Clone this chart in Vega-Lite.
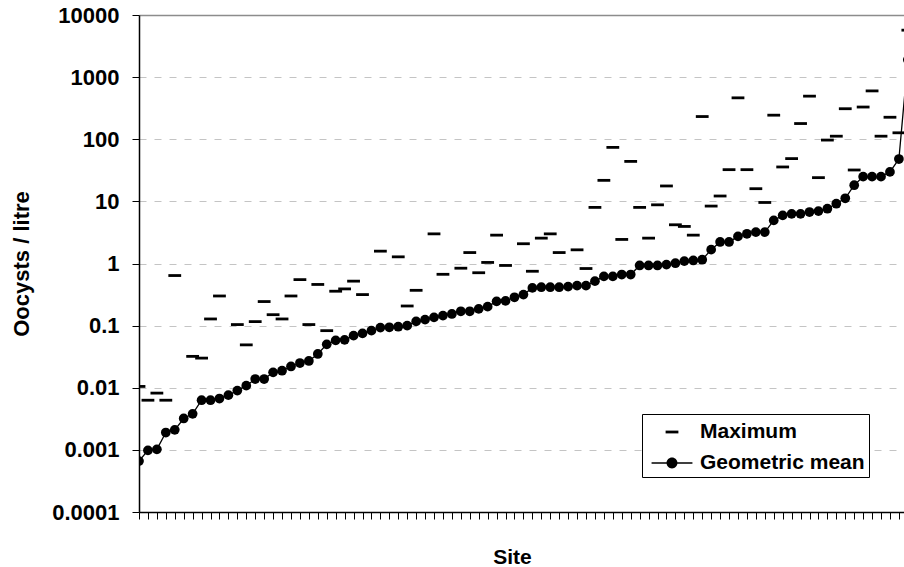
{
  "$schema": "https://vega.github.io/schema/vega-lite/v6.json",
  "autosize": {"type": "none"},
  "padding": {"left": 139, "top": 15, "right": 0, "bottom": 55},
  "width": 765,
  "height": 497,
  "background": "white",
  "config": {
    "view": {"stroke": null},
    "font": "Liberation Sans"
  },
  "data": {
    "values": [
      {"site": 0, "mean": 0.00066, "max": 0.0105},
      {"site": 1, "mean": 0.00098, "max": 0.0063},
      {"site": 2, "mean": 0.00102, "max": 0.0082},
      {"site": 3, "mean": 0.0019, "max": 0.0063},
      {"site": 4, "mean": 0.0021, "max": 0.64},
      {"site": 5, "mean": 0.0032, "max": null},
      {"site": 6, "mean": 0.0038, "max": 0.032},
      {"site": 7, "mean": 0.0063, "max": 0.03},
      {"site": 8, "mean": 0.0063, "max": 0.128},
      {"site": 9, "mean": 0.0067, "max": 0.3},
      {"site": 10, "mean": 0.0076, "max": null},
      {"site": 11, "mean": 0.009, "max": 0.104},
      {"site": 12, "mean": 0.0108, "max": 0.049},
      {"site": 13, "mean": 0.0138, "max": 0.116},
      {"site": 14, "mean": 0.0138, "max": 0.244},
      {"site": 15, "mean": 0.0177, "max": 0.15},
      {"site": 16, "mean": 0.0188, "max": 0.128},
      {"site": 17, "mean": 0.022, "max": 0.3},
      {"site": 18, "mean": 0.025, "max": 0.55},
      {"site": 19, "mean": 0.027, "max": 0.104},
      {"site": 20, "mean": 0.035, "max": 0.46},
      {"site": 21, "mean": 0.05, "max": 0.083},
      {"site": 22, "mean": 0.058, "max": 0.358},
      {"site": 23, "mean": 0.059, "max": 0.39},
      {"site": 24, "mean": 0.069, "max": 0.52},
      {"site": 25, "mean": 0.075, "max": 0.316},
      {"site": 26, "mean": 0.083, "max": null},
      {"site": 27, "mean": 0.093, "max": 1.58},
      {"site": 28, "mean": 0.094, "max": null},
      {"site": 29, "mean": 0.096, "max": 1.28},
      {"site": 30, "mean": 0.1, "max": 0.207},
      {"site": 31, "mean": 0.117, "max": 0.37},
      {"site": 32, "mean": 0.125, "max": null},
      {"site": 33, "mean": 0.136, "max": 3.0},
      {"site": 34, "mean": 0.145, "max": 0.67},
      {"site": 35, "mean": 0.154, "max": null},
      {"site": 36, "mean": 0.17, "max": 0.84},
      {"site": 37, "mean": 0.17, "max": 1.5},
      {"site": 38, "mean": 0.186, "max": 0.71},
      {"site": 39, "mean": 0.202, "max": 1.04},
      {"site": 40, "mean": 0.246, "max": 2.86},
      {"site": 41, "mean": 0.25, "max": 0.93},
      {"site": 42, "mean": 0.286, "max": null},
      {"site": 43, "mean": 0.316, "max": 2.08},
      {"site": 44, "mean": 0.405, "max": 0.75},
      {"site": 45, "mean": 0.415, "max": 2.56},
      {"site": 46, "mean": 0.415, "max": 3.0},
      {"site": 47, "mean": 0.415, "max": 1.5},
      {"site": 48, "mean": 0.425, "max": null},
      {"site": 49, "mean": 0.44, "max": 1.66},
      {"site": 50, "mean": 0.44, "max": 0.83},
      {"site": 51, "mean": 0.52, "max": 8.0},
      {"site": 52, "mean": 0.62, "max": 21.8},
      {"site": 53, "mean": 0.62, "max": 74},
      {"site": 54, "mean": 0.665, "max": 2.44},
      {"site": 55, "mean": 0.665, "max": 44},
      {"site": 56, "mean": 0.93, "max": 8.0},
      {"site": 57, "mean": 0.93, "max": 2.56},
      {"site": 58, "mean": 0.93, "max": 8.8},
      {"site": 59, "mean": 0.96, "max": 17.7},
      {"site": 60, "mean": 1.01, "max": 4.2},
      {"site": 61, "mean": 1.09, "max": 3.95},
      {"site": 62, "mean": 1.12, "max": 2.86},
      {"site": 63, "mean": 1.15, "max": 232},
      {"site": 64, "mean": 1.67, "max": 8.4},
      {"site": 65, "mean": 2.22, "max": 12.2},
      {"site": 66, "mean": 2.22, "max": 32.4},
      {"site": 67, "mean": 2.73, "max": 464},
      {"site": 68, "mean": 3.01, "max": 32.4},
      {"site": 69, "mean": 3.2, "max": 16},
      {"site": 70, "mean": 3.2, "max": 9.6},
      {"site": 71, "mean": 4.94, "max": 244},
      {"site": 72, "mean": 5.94, "max": 35.8},
      {"site": 73, "mean": 6.3, "max": 48.8},
      {"site": 74, "mean": 6.3, "max": 179},
      {"site": 75, "mean": 6.73, "max": 494},
      {"site": 76, "mean": 6.98, "max": 24.1},
      {"site": 77, "mean": 7.62, "max": 97},
      {"site": 78, "mean": 9.17, "max": 112},
      {"site": 79, "mean": 11.2, "max": 310},
      {"site": 80, "mean": 18.2, "max": 32},
      {"site": 81, "mean": 25, "max": 330},
      {"site": 82, "mean": 25, "max": 600},
      {"site": 83, "mean": 25, "max": 112},
      {"site": 84, "mean": 29.8, "max": 226},
      {"site": 85, "mean": 48, "max": 127},
      {"site": 86, "mean": 1900, "max": 5700}
    ]
  },
  "encoding": {
    "x": {
      "field": "site",
      "type": "quantitative",
      "scale": {"domain": [0, 85.57], "nice": false, "zero": false},
      "axis": {
        "values": [0,1,2,3,4,5,6,7,8,9,10,11,12,13,14,15,16,17,18,19,20,21,22,23,24,25,26,27,28,29,30,31,32,33,34,35,36,37,38,39,40,41,42,43,44,45,46,47,48,49,50,51,52,53,54,55,56,57,58,59,60,61,62,63,64,65,66,67,68,69,70,71,72,73,74,75,76,77,78,79,80,81,82,83,84,85],
        "labels": false,
        "grid": false,
        "domainColor": "black",
        "domainWidth": 1.5,
        "tickColor": "black",
        "tickWidth": 1,
        "tickSize": 7,
        "title": "Site",
        "titleFont": "Liberation Sans",
        "titleFontSize": 21,
        "titleFontWeight": "bold",
        "titleColor": "black",
        "titleX": 373,
        "titleY": 51,
        "titleBaseline": "alphabetic",
        "titleAlign": "center"
      }
    }
  },
  "layer": [
    {
      "mark": {"type": "point", "filled": true, "color": "black", "size": 784, "strokeWidth": 0, "opacity": 1, "clip": true},
      "encoding": {
        "y": {"field": "max", "type": "quantitative"},
        "shape": {
          "datum": "Maximum",
          "type": "nominal",
          "scale": {
            "domain": ["Maximum", "Geometric mean"],
            "range": [
              "M-0.457,-0.1H0.457V0.1H-0.457Z",
              "M-1.46,-0.046H1.46V0.046H-1.46Z M0.39,0A0.39,0.39 0 1,1 -0.39,0A0.39,0.39 0 1,1 0.39,0Z"
            ]
          },
          "legend": {
            "title": null,
            "orient": "none",
            "legendX": 503,
            "legendY": 399,
            "fillColor": "white",
            "strokeColor": "black",
            "padding": 4,
            "rowPadding": 7,
            "symbolSize": 784,
            "symbolFillColor": "black",
            "symbolStrokeWidth": 0,
            "symbolOffset": 12,
            "labelOffset": 14,
            "labelFont": "Liberation Sans",
            "labelFontSize": 21,
            "labelFontWeight": "bold",
            "labelColor": "black",
            "labelLimit": 300
          }
        }
      }
    },
    {
      "mark": {"type": "line", "color": "black", "strokeWidth": 1.3, "clip": true},
      "encoding": {
        "y": {"field": "mean", "type": "quantitative"}
      }
    },
    {
      "mark": {"type": "circle", "color": "black", "size": 95, "opacity": 1, "clip": true},
      "encoding": {
        "y": {
          "field": "mean",
          "type": "quantitative",
          "scale": {"type": "log", "domain": [0.0001, 10000], "nice": false},
          "axis": {
            "values": [0.0001, 0.001, 0.01, 0.1, 1, 10, 100, 1000, 10000],
            "format": "~g",
            "domainColor": "black",
            "domainWidth": 1.5,
            "tickColor": "black",
            "tickWidth": 1,
            "tickSize": 7,
            "labelFont": "Liberation Sans",
            "labelFontSize": 22,
            "labelFontWeight": "bold",
            "labelColor": "black",
            "labelPadding": 13,
            "grid": true,
            "gridColor": {"condition": {"test": "datum.value >= 10000", "value": "#8c8c8c"}, "value": "#c4c4c4"},
            "gridDash": {"condition": {"test": "datum.value >= 10000", "value": []}, "value": [7, 8]},
            "gridWidth": {"condition": {"test": "datum.value >= 10000", "value": 1.6}, "value": 1},
            "title": "Oocysts / litre",
            "titleFont": "Liberation Sans",
            "titleFontSize": 22,
            "titleFontWeight": "bold",
            "titleColor": "black",
            "titleX": -111,
            "titleY": 248.5,
            "titleAngle": -90,
            "titleAlign": "center",
            "titleBaseline": "alphabetic"
          }
        }
      }
    }
  ],
  "resolve": {"scale": {"y": "shared"}}
}
